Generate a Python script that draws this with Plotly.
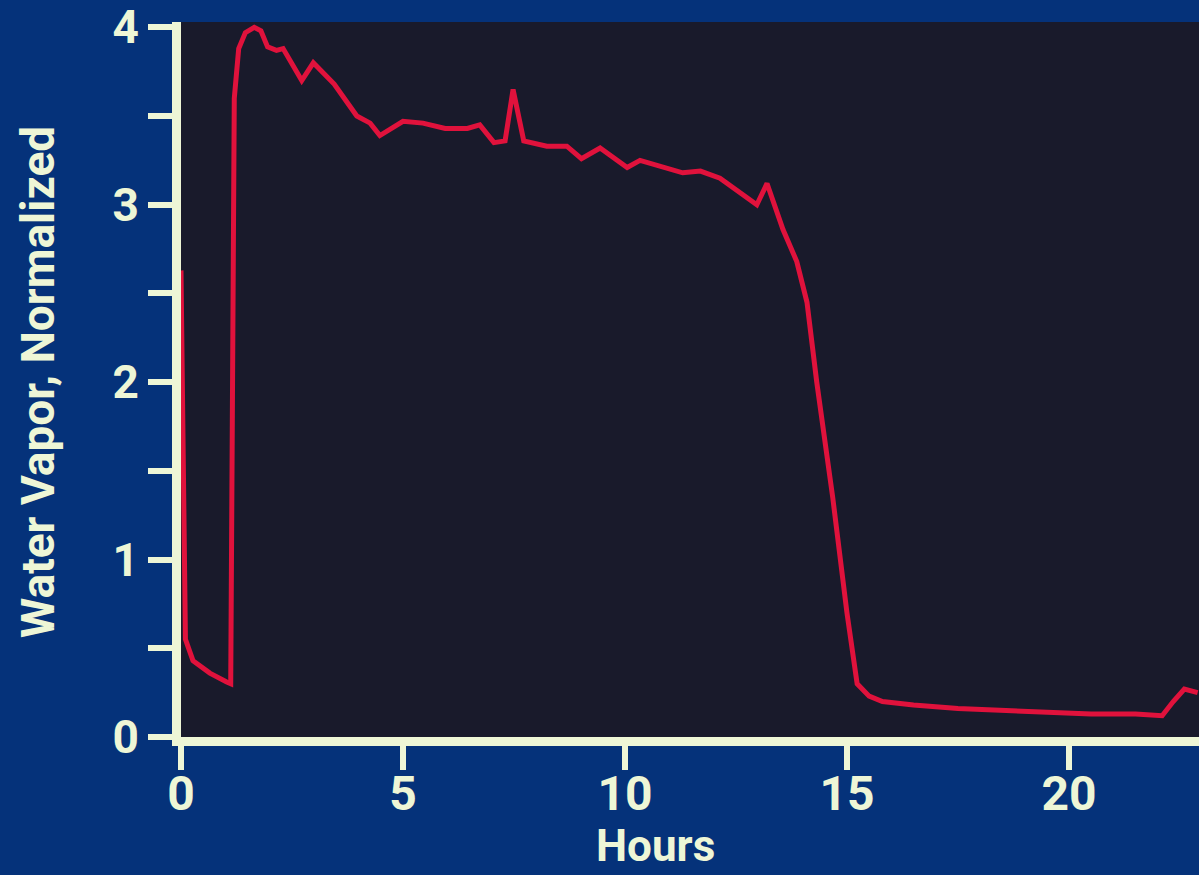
"""
Water vapor (normalized) over time, slide-style line chart.
"""

import plotly.graph_objects as go

# Data
HOURS = [
    0.0, 0.05, 0.1, 0.27, 0.65, 1.03, 1.12, 1.2, 1.3, 1.45, 1.65, 1.8,
    1.95, 2.15, 2.3, 2.72, 2.98, 3.45, 3.96, 4.26, 4.48, 5.0, 5.45, 5.95,
    6.45, 6.73, 7.05, 7.3, 7.48, 7.72, 8.24, 8.69, 9.02, 9.44, 10.05, 10.34,
    11.3, 11.7, 12.14, 12.97, 13.2, 13.56, 13.87, 14.1, 14.32, 14.68, 15.0,
    15.23, 15.5, 15.8, 16.5, 17.5, 18.5, 19.6, 20.5, 21.5, 22.1, 22.35,
    22.6, 22.9,
]
VAPOR = [
    2.63, 1.6, 0.55, 0.43, 0.36, 0.31, 0.30, 3.6, 3.88, 3.97, 4.0, 3.98,
    3.89, 3.87, 3.88, 3.70, 3.80, 3.68, 3.50, 3.46, 3.39, 3.47, 3.46, 3.43,
    3.43, 3.45, 3.35, 3.36, 3.65, 3.36, 3.33, 3.33, 3.26, 3.32, 3.21, 3.25,
    3.18, 3.19, 3.15, 3.00, 3.12, 2.86, 2.68, 2.45, 2.0, 1.35, 0.70,
    0.30, 0.23, 0.20, 0.18, 0.16, 0.15, 0.14, 0.13, 0.13, 0.12, 0.20,
    0.27, 0.25,
]

X_TICKS = [0, 5, 10, 15, 20]
Y_TICKS = [0, 0.5, 1, 1.5, 2, 2.5, 3, 3.5, 4]
Y_TICK_TEXT = ["0", "", "1", "", "2", "", "3", "", "4"]

SLIDE_BLUE = "#05327a"
PLOT_DARK = "#191a2b"
AXIS_PALE = "#eef6d6"
LINE_RED = "#e0123c"
FONT = "Roboto, Liberation Sans, sans-serif"

fig = go.Figure()
fig.add_trace(go.Scatter(
    x=HOURS, y=VAPOR, mode="lines",
    line=dict(color=LINE_RED, width=5),
    hoverinfo="x+y",
))

axis_common = dict(
    showline=True, linecolor=AXIS_PALE, linewidth=9,
    ticks="outside", ticklen=24, tickwidth=6, tickcolor=AXIS_PALE,
    showgrid=False, zeroline=False,
)

fig.update_xaxes(
    range=[0, 22.93], tickvals=X_TICKS, ticklabelstandoff=-18,
    tickfont=dict(family=FONT, size=48, color=AXIS_PALE, weight="bold"),
    **axis_common,
)
fig.update_yaxes(
    range=[0, 4.03], tickvals=Y_TICKS, ticktext=Y_TICK_TEXT,
    tickfont=dict(family=FONT, size=46, color=AXIS_PALE, weight="bold"),
    **axis_common,
)

fig.add_annotation(
    text="Hours", xref="paper", yref="paper", x=0.4666, y=-0.1524,
    xanchor="center", yanchor="middle", showarrow=False,
    font=dict(family=FONT, size=44, color=AXIS_PALE, weight="bold"),
)
fig.add_annotation(
    text="Water Vapor, Normalized", xref="paper", yref="paper",
    x=-0.1405, y=0.4965, textangle=-90,
    xanchor="center", yanchor="middle", showarrow=False,
    font=dict(family=FONT, size=46, color=AXIS_PALE, weight="bold"),
)

fig.update_layout(
    width=1199, height=875,
    margin=dict(l=181, r=0, t=22, b=138),
    paper_bgcolor=SLIDE_BLUE,
    plot_bgcolor=PLOT_DARK,
    showlegend=False,
)

# drop the default page margin so the figure fills the window
fig.write_html(
    "out.html",
    config={"displayModeBar": False},
    post_script="document.body.style.margin='0';"
                "document.body.style.background='" + SLIDE_BLUE + "';",
)
